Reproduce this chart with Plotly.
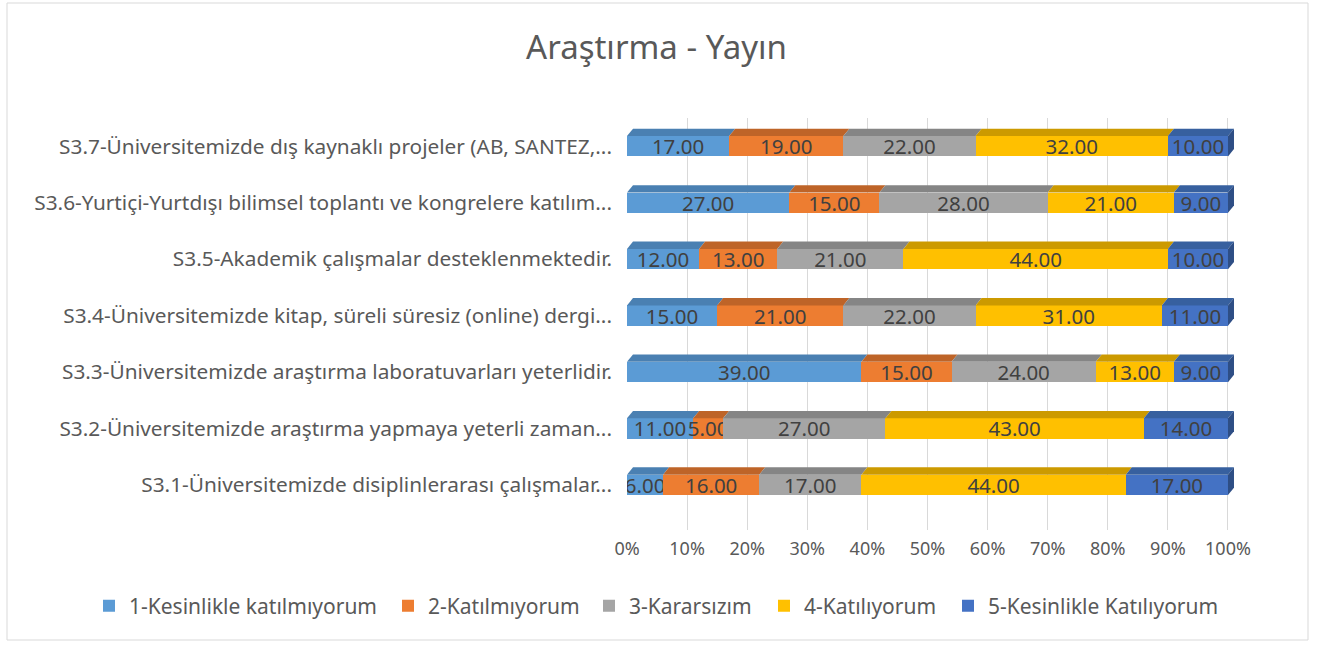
import plotly.graph_objects as go
import numpy as np

categories = [
    "S3.1-Üniversitemizde disiplinlerarası çalışmalar...",
    "S3.2-Üniversitemizde araştırma yapmaya yeterli zaman...",
    "S3.3-Üniversitemizde araştırma laboratuvarları yeterlidir.",
    "S3.4-Üniversitemizde kitap, süreli süresiz (online) dergi...",
    "S3.5-Akademik çalışmalar desteklenmektedir.",
    "S3.6-Yurtiçi-Yurtdışı bilimsel toplantı ve kongrelere katılım...",
    "S3.7-Üniversitemizde dış kaynaklı projeler (AB, SANTEZ,...",
]
series_names = ["1-Kesinlikle katılmıyorum", "2-Katılmıyorum", "3-Kararsızım",
                "4-Katılıyorum", "5-Kesinlikle Katılıyorum"]
s1 = [6, 11, 39, 15, 12, 27, 17]
s2 = [16, 5, 15, 21, 13, 15, 19]
s3 = [17, 27, 24, 22, 21, 28, 22]
s4 = [44, 43, 13, 31, 44, 21, 32]
s5 = [17, 14, 9, 11, 10, 9, 10]
tick_vals = [0, 10, 20, 30, 40, 50, 60, 70, 80, 90, 100]
tick_text = ["0%", "10%", "20%", "30%", "40%", "50%", "60%", "70%", "80%", "90%", "100%"]

colors = ["#5B9BD5", "#ED7D31", "#A5A5A5", "#FFC000", "#4472C4"]
top_colors = ["#4A80B2", "#BE6428", "#858585", "#CC9A00", "#37609F"]
side_color = "#2E4E85"
FONT = "Noto Sans"
TXT = "#404040"
GREY = "#595959"

# layout geometry (pixels)
L, R, T, B = 627, 77, 118, 116
W, H = 1317, 646
PW, PH = W - L - R, H - T - B
legend_text_px = [128, 427, 628, 803, 987]
legend_px = [p - 39 for p in legend_text_px]

all_series = [s1, s2, s3, s4, s5]
fig = go.Figure()
legend_keys = ["legend", "legend2", "legend3", "legend4", "legend5"]
for k, (name, vals, c) in enumerate(zip(series_names, all_series, colors)):
    fig.add_trace(go.Bar(
        y=categories, x=vals, name=name, orientation="h",
        marker=dict(color=c, line=dict(width=0)),
        text=[f"{v:.2f}" for v in vals], textposition="inside",
        insidetextanchor="middle", textangle=0, constraintext="none",
        textfont=dict(family=FONT, size=20.5, color=TXT),
        legend=legend_keys[k],
    ))

# 3D top faces and right side face (derived from data)
bw = 0.36
dx, dy = 1.0, 0.13
shapes = []
cum = np.zeros(len(categories))
for k, vals in enumerate(all_series):
    for i, v in enumerate(vals):
        x0, x1 = cum[i], cum[i] + v
        yt = i + bw / 2
        shapes.append(dict(type="path", xref="x", yref="y", layer="above",
                           path=f"M {x0},{yt} L {x0+dx},{yt+dy} L {x1+dx},{yt+dy} L {x1},{yt} Z",
                           fillcolor=top_colors[k], line=dict(width=0)))
        if k == len(all_series) - 1:
            yb = i - bw / 2
            shapes.append(dict(type="path", xref="x", yref="y", layer="above",
                               path=f"M {x1},{yt} L {x1+dx},{yt+dy} L {x1+dx},{yb+dy} L {x1},{yb} Z",
                               fillcolor=side_color, line=dict(width=0)))
    cum = cum + np.array(vals)

# chart border
shapes.append(dict(type="rect", xref="paper", yref="paper",
                   x0=(7 - L) / PW, x1=(1308 - L) / PW,
                   y0=(H - B - 640) / PH, y1=(H - B - 3) / PH,
                   line=dict(color="#D9D9D9", width=1),
                   fillcolor="rgba(0,0,0,0)", layer="below"))

legends = {}
for k, key in enumerate(legend_keys):
    legends[key] = dict(orientation="h", xref="paper", yref="paper",
                        x=(legend_px[k] - L) / PW, xanchor="left",
                        y=(H - B - 606) / PH, yanchor="middle",
                        font=dict(family=FONT, size=21, color=GREY),
                        itemwidth=30, bgcolor="rgba(0,0,0,0)")

fig.update_layout(
    barmode="stack", bargap=1 - bw,
    width=W, height=H,
    margin=dict(l=L, r=R, t=T, b=B, autoexpand=False),
    paper_bgcolor="white", plot_bgcolor="white",
    title=dict(text="Araştırma - Yayın", x=0.4985, xanchor="center", xref="container",
               y=0.927, yanchor="middle", yref="container",
               font=dict(family=FONT, size=33, color=GREY)),
    xaxis=dict(range=[0, 102], tickvals=tick_vals, ticktext=tick_text,
               showgrid=True, gridcolor="#D9D9D9", gridwidth=1, zeroline=False,
               tickfont=dict(family=FONT, size=18, color=GREY), ticklabelstandoff=6),
    yaxis=dict(range=[-0.8, 6.5], showgrid=False, ticks="",
               tickfont=dict(family=FONT, size=20.8, color=GREY), ticklabelstandoff=14),
    uniformtext=dict(minsize=20.5, mode="show"),
    shapes=shapes,
    showlegend=True,
    **legends,
)
fig.write_html("out.html", config={"displayModeBar": False},
               post_script="document.body.style.margin='0';document.body.style.overflow='hidden';")
